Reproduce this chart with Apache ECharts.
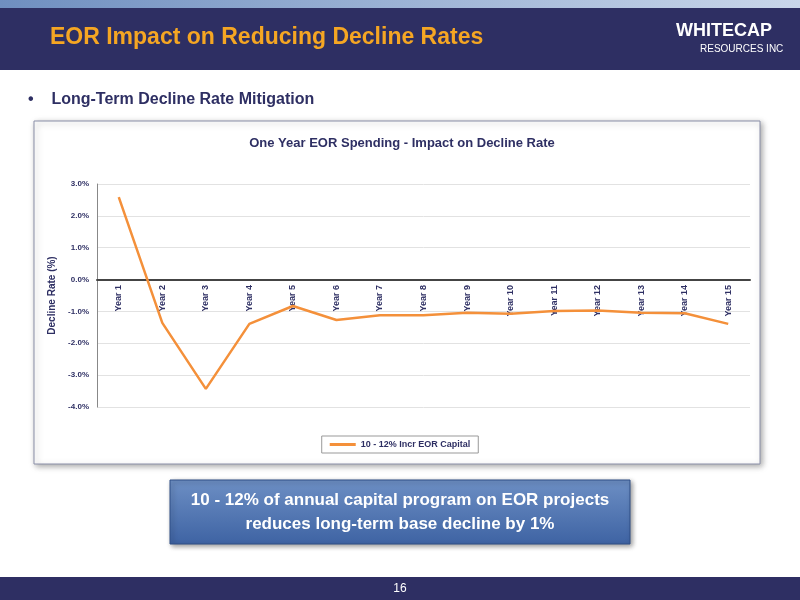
<!DOCTYPE html>
<html><head><meta charset="utf-8">
<script src="https://cdn.jsdelivr.net/npm/echarts@6/dist/echarts.min.js"></script>
<style>html,body{margin:0;padding:0;background:#fff}#main{width:800px;height:600px}</style>
</head><body><div id="main"></div>
<script>
var years = ['Year 1','Year 2','Year 3','Year 4','Year 5','Year 6','Year 7','Year 8','Year 9','Year 10','Year 11','Year 12','Year 13','Year 14','Year 15'];
var declineRate = [2.59,-1.36,-3.43,-1.39,-0.83,-1.27,-1.12,-1.12,-1.04,-1.07,-0.99,-0.97,-1.04,-1.06,-1.39];
var yTicks = [-4,-3,-2,-1,0,1,2,3];

var font = "'Liberation Sans',Arial,sans-serif";
var navy = '#2e2f63';
var myChart = echarts.init(document.getElementById('main'));

myChart.setOption({
    textStyle: {fontFamily: font},
    graphic: [
        {type: 'rect', shape: {x: 0, y: 0, width: 800, height: 70}, style: {fill: navy}},
        {type: 'rect', shape: {x: 0, y: 0, width: 800, height: 8},
            style: {fill: new echarts.graphic.LinearGradient(0, 0, 1, 0, [{offset: 0, color: '#6f8fc0'}, {offset: 1, color: '#c9d6ea'}])}},
        {type: 'text', left: 50, top: 26, style: {text: 'EOR Impact on Reducing Decline Rates', fill: '#f5a623', font: 'bold 23px ' + font}},
        {type: 'text', left: 676, top: 22, style: {text: 'WHITECAP', fill: '#fff', font: 'bold 18px ' + font}},
        {type: 'text', left: 700, top: 44, style: {text: 'RESOURCES INC', fill: '#fff', font: '10px ' + font}},
        {type: 'text', left: 28, top: 92, style: {text: '•    Long-Term Decline Rate Mitigation', fill: navy, font: 'bold 16px ' + font}},
        {type: 'rect', shape: {x: 34, y: 121, width: 726, height: 343},
            style: {fill: '#fff', stroke: '#8a8fa8', lineWidth: 1, shadowBlur: 6, shadowColor: 'rgba(0,0,0,0.35)', shadowOffsetX: 2, shadowOffsetY: 2}, z: -10},
        {type: 'rect', shape: {x: 170, y: 480, width: 460, height: 64},
            style: {fill: new echarts.graphic.LinearGradient(0, 0, 0, 1, [{offset: 0, color: '#6d8fc4'}, {offset: 1, color: '#3e63a3'}]),
                stroke: '#2f4f86', lineWidth: 1, shadowBlur: 5, shadowColor: 'rgba(0,0,0,0.4)', shadowOffsetX: 2, shadowOffsetY: 2}},
        {type: 'text', x: 400, y: 512, style: {text: '10 - 12% of annual capital program on EOR projects\nreduces long-term base decline by 1%',
            fill: '#fff', font: 'bold 17px ' + font, align: 'center', verticalAlign: 'middle', lineHeight: 24}},
        {type: 'rect', shape: {x: 0, y: 577, width: 800, height: 23}, style: {fill: navy}},
        {type: 'text', x: 400, y: 589, style: {text: '16', fill: '#fff', font: '12px ' + font, align: 'center', verticalAlign: 'middle'}}
    ],
    title: {
        text: 'One Year EOR Spending - Impact on Decline Rate',
        left: 397, top: 132, textAlign: 'center',
        textStyle: {fontSize: 13, fontWeight: 'bold', color: navy, fontFamily: font}
    },
    legend: {
        data: [{name: '10 - 12% Incr EOR Capital', icon: 'rect'}],
        top: 436, left: 'center',
        itemWidth: 26, itemHeight: 3,
        borderColor: '#999', borderWidth: 1, borderRadius: 0, padding: [4, 8],
        textStyle: {fontSize: 9, fontWeight: 'bold', color: navy}
    },
    grid: {left: 97, right: 50, top: 184, bottom: 193},
    xAxis: {
        type: 'category',
        data: years,
        boundaryGap: true,
        axisLine: {onZero: true, lineStyle: {color: '#444', width: 2}},
        axisTick: {show: false},
        axisLabel: {rotate: 90, interval: 0, margin: -122, fontSize: 9, fontWeight: 'bold', color: navy}
    },
    yAxis: {
        type: 'value', min: -4, max: 3, interval: 1,
        name: 'Decline Rate (%)', nameLocation: 'middle', nameGap: 40,
        nameTextStyle: {fontSize: 10, fontWeight: 'bold', color: navy},
        axisLine: {show: true, lineStyle: {color: '#888'}},
        axisTick: {show: false},
        splitLine: {lineStyle: {color: '#e2e2e2', width: 1}},
        axisLabel: {fontSize: 8, fontWeight: 'bold', color: navy, formatter: function (v) { return v.toFixed(1) + '%'; }}
    },
    series: [{
        name: '10 - 12% Incr EOR Capital',
        type: 'line',
        data: declineRate,
        symbol: 'none',
        lineStyle: {color: '#f4903a', width: 2.5},
        itemStyle: {color: '#f4903a'}
    }]
});
</script>
</body></html>
